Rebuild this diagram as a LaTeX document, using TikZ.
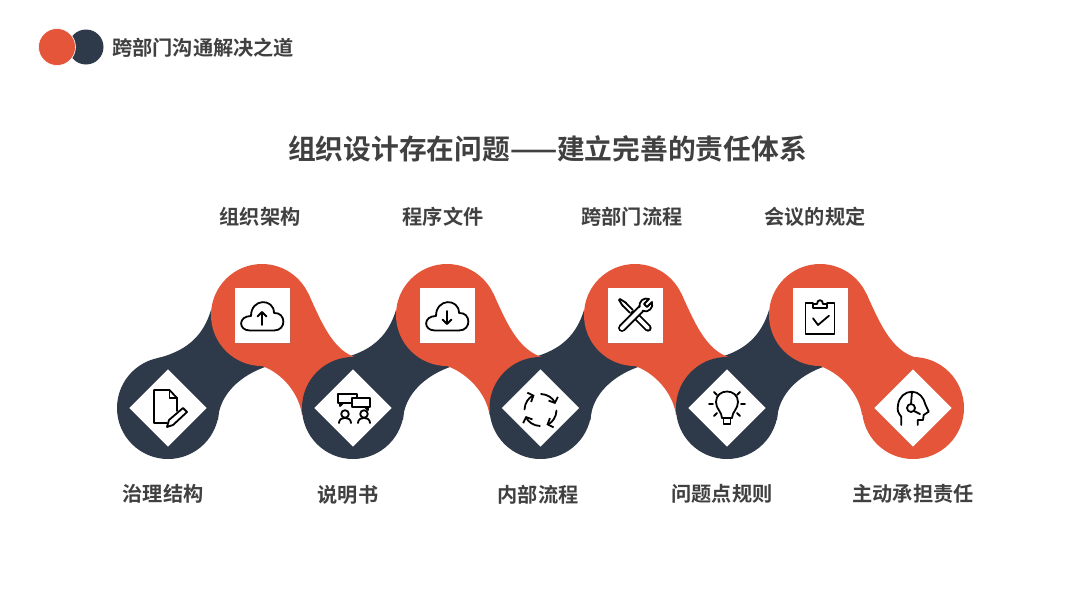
\documentclass[tikz,border=0pt]{standalone}
\usepackage{fontspec}
\setmainfont{Noto Sans CJK SC}[BoldFont={Noto Sans CJK SC Bold}]
\usetikzlibrary{shadows,arrows.meta}
\definecolor{ribbonorange}{HTML}{E4553A}
\definecolor{ribbondark}{HTML}{2E3A4A}
\definecolor{inkgrey}{HTML}{404040}
\tikzset{
  blob/.style={circle,minimum size=102pt,inner sep=0pt,draw=none},
  tile/.style={rectangle,fill=white,minimum size=55pt,inner sep=0pt,draw=none,
    drop shadow={opacity=.25,shadow xshift=1pt,shadow yshift=-1.2pt}},
  lozenge/.style={rectangle,fill=white,inner sep=0pt,draw=none,rotate=45,minimum size=54.6pt,
    drop shadow={opacity=.2,shadow xshift=0pt,shadow yshift=0pt}},
  caption/.style={font=\fontsize{20.2}{24}\selectfont\bfseries,text=inkgrey,inner sep=0pt},
  glyph/.style={line width=1.8pt,black,line join=round,line cap=round},
}
% #1 = x of the upper circle, #2 = x of the lower circle
\newcommand{\darkband}[2]{\fill[ribbondark]
  ({#2-10},358) .. controls ({#1-72},350) and ({#1-58},333) .. ({#1-51},310)
  -- (#1,315) -- ({#1+6},366)
  .. controls ({#1-22},375) and ({#2+51},395) .. ({#2+50},420) -- (#2,408) -- cycle;}
\newcommand{\orangeband}[2]{\fill[ribbonorange]
  ({#1+46},293) .. controls ({#1+58},318) and ({#1+70},352) .. ({#2+5},358)
  -- (#2,408) -- ({#2-51},415)
  .. controls ({#2-54},393) and ({#1+20},373) .. (#1,366) -- (#1,315) -- cycle;}
\begin{document}
\begin{tikzpicture}[x=1pt,y=1pt,yscale=-1]
\useasboundingbox (0,0) rectangle (1080,608);
\fill[white] (0,0) rectangle (1080,608);
% header
\node[circle,minimum size=35pt,inner sep=0pt,fill=ribbondark] (logoB) at (86,47) {};
\node[circle,minimum size=37pt,inner sep=0pt,fill=ribbonorange,draw=white,line width=.6pt] (logoA) at (57,47) {};
\node[caption,anchor=west] (head) at (112,47.5) {跨部门沟通解决之道};
\node[caption,font=\fontsize{27.75}{32}\selectfont\bfseries] (title) at (547.5,149) {组织设计存在问题——建立完善的责任体系};
% ribbon
\darkband{262}{168}\darkband{447}{353}\darkband{635}{540.5}\darkband{820}{727}
\orangeband{262}{353}\orangeband{447}{540.5}\orangeband{635}{727}\orangeband{820}{913}
\node[blob,fill=ribbonorange] (u1) at (262,315) {};
\node[blob,fill=ribbonorange] (u2) at (447,315) {};
\node[blob,fill=ribbonorange] (u3) at (635,315) {};
\node[blob,fill=ribbonorange] (u4) at (820,315) {};
\node[blob,fill=ribbondark] (l1) at (168,408) {};
\node[blob,fill=ribbondark] (l2) at (353,408) {};
\node[blob,fill=ribbondark] (l3) at (540.5,408) {};
\node[blob,fill=ribbondark] (l4) at (727,408) {};
\node[blob,fill=ribbonorange] (l5) at (913,408) {};
% tiles
\node[tile] (tu1) at (262,315) {};
\node[tile] (tu2) at (447,315) {};
\node[tile] (tu3) at (635,315) {};
\node[tile] (tu4) at (820,315) {};
\node[lozenge] (tl1) at (168,408) {};
\node[lozenge] (tl2) at (353,408) {};
\node[lozenge] (tl3) at (540.5,408) {};
\node[lozenge] (tl4) at (727,408) {};
\node[lozenge] (tl5) at (913,408) {};
% cloud up
\begin{scope}[shift={(262,315)},glyph]
\draw (-12,15.5) .. controls (-24,15.5) and (-24,1) .. (-11,1) .. controls (-11,-17) and (12,-17) .. (12,-2) .. controls (24,-3) and (25,15.5) .. (12,15.5) -- cycle;
\draw (0,10) -- (0,-3) (-4.5,1.5) -- (0,-3) -- (4.5,1.5);
\end{scope}
% cloud down
\begin{scope}[shift={(447,315)},glyph]
\draw (-12,15.5) .. controls (-24,15.5) and (-24,1) .. (-11,1) .. controls (-11,-17) and (12,-17) .. (12,-2) .. controls (24,-3) and (25,15.5) .. (12,15.5) -- cycle;
\draw (0,-4) -- (0,9) (-4.5,4.5) -- (0,9) -- (4.5,4.5);
\end{scope}
% tools
\begin{scope}[shift={(635,315)},glyph]
\draw[line width=7.4pt] (-1,-1) -- (13,13);
\draw[white,line width=3.8pt] (-1,-1) -- (13,13);
\draw (-2.2,-5) -- (-9.5,-12.5) (-5,-2.2) -- (-12.5,-9.5);
\draw (-9.5,-12.5) -- (-15,-16) -- (-16,-15) -- (-12.5,-9.5);
\draw[line width=7.8pt] (-13,13) -- (7,-7);
\draw[white,line width=4.2pt] (-13,13) -- (7,-7);
\draw[fill=white] (5,-7) .. controls (3,-14) and (9,-18) .. (14,-16) -- (9,-11) -- (12,-8) -- (17,-13) .. controls (19,-7) and (13,-2) .. (8,-4) -- cycle;
\draw[white,line width=3.4pt,line cap=butt] (4,-4) -- (8,-8);
\end{scope}
% clipboard
\begin{scope}[shift={(820,315)},glyph]
\draw (-7,-11.7) -- (-14.5,-11.7) -- (-14.5,19) -- (14.5,19) -- (14.5,-11.7) -- (7,-11.7);
\draw (-7,-7) -- (-7,-11) -- (-3,-11) .. controls (-3,-16) and (3,-16) .. (3,-11) -- (7,-11) -- (7,-7) -- cycle;
\draw (-7,3.3) -- (-2,10) -- (9,0.7);
\end{scope}
% document
\begin{scope}[shift={(168,408)},glyph]
\draw (-1,15) -- (-14,15) -- (-14,-18) -- (1.5,-18) -- (9,-10) -- (9,3);
\draw (1.5,-18) -- (1.5,-10) -- (9,-10);
\draw (-1,19) -- (1,12) -- (15,0) -- (19,4) -- (5,17) -- cycle;
\end{scope}
% people and speech bubbles
\begin{scope}[shift={(353,408)},glyph]
\draw (-15,-14) rectangle (4,-5);
\draw (-13,-5) -- (-13,-2) -- (-10,-5);
\draw[fill=white] (-1,-10) rectangle (17,-1);
\draw (15,-1) -- (15,2) -- (12,-1);
\draw (-8,6) circle[radius=3.8pt] (11,6) circle[radius=3.8pt];
\draw (-14,15) .. controls (-14,8) and (-2,8) .. (-2,15);
\draw (5,15) .. controls (5,8) and (17,8) .. (17,15);
\end{scope}
% cycle
\begin{scope}[shift={(540.5,410)},glyph,-{Straight Barb[length=4.5pt,width=10pt]}]
\draw (-88:16pt) arc[start angle=-88,end angle=-22,radius=16pt];
\draw (2:16pt) arc[start angle=2,end angle=68,radius=16pt];
\draw (92:16pt) arc[start angle=92,end angle=158,radius=16pt];
\draw (182:16pt) arc[start angle=182,end angle=248,radius=16pt];
\end{scope}
% bulb
\begin{scope}[shift={(727,408)},glyph]
\draw (-5,10) .. controls (-5,4) and (-11,1) .. (-11,-6) .. controls (-11,-20) and (11,-20) .. (11,-6) .. controls (11,1) and (5,4) .. (5,10) -- cycle;
\draw (-3.5,10) -- (-3.5,16) -- (3.5,16) -- (3.5,10);
\draw (-13,-16) -- (-10,-13) (13,-16) -- (10,-13) (-18,-4) -- (-14,-4) (18,-4) -- (14,-4) (-13,8) -- (-10,5) (13,8) -- (10,5);
\end{scope}
% head
\begin{scope}[shift={(913,408)},glyph]
\draw (-11.7,17) -- (-11.7,8.7) .. controls (-15,5) and (-16,2) .. (-15,-3) .. controls (-14,-11) and (-8,-16.3) .. (-1,-16.3) .. controls (6,-16.3) and (11,-10) .. (12.3,-3.7) -- (15.7,3.7) -- (10.7,7) -- (10,12) -- (4.7,12) -- (4.7,17);
\draw (-2,0) circle[radius=4pt];
\draw (-1,-16) -- (-2,-4) (1,3) -- (7,6);
\end{scope}
% labels
\node[caption] (c1) at (260,217) {组织架构};
\node[caption] (c2) at (443,217) {程序文件};
\node[caption] (c3) at (632,217) {跨部门流程};
\node[caption] (c4) at (815,217) {会议的规定};
\node[caption] (d1) at (163,494) {治理结构};
\node[caption] (d2) at (348,495) {说明书};
\node[caption] (d3) at (538,495) {内部流程};
\node[caption] (d4) at (722,494) {问题点规则};
\node[caption] (d5) at (913,494) {主动承担责任};
\end{tikzpicture}
\end{document}
